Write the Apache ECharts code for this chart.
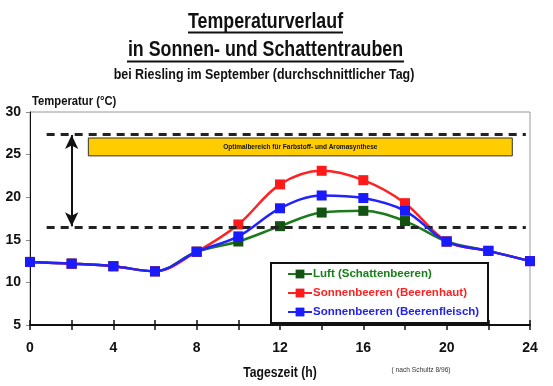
<!DOCTYPE html>
<html><head><meta charset="utf-8">
<script src="https://cdn.jsdelivr.net/npm/echarts@6/dist/echarts.min.js"></script>
<style>html,body{margin:0;padding:0;background:#fff}#c{width:553px;height:386px}</style>
</head><body><div id="c"></div>
<script>
const hours = [0, 2, 4, 6, 8, 10, 12, 14, 16, 18, 20, 22, 24];
const luft = [12.4, 12.2, 11.9, 11.3, 13.6, 14.8, 16.6, 18.2, 18.4, 17.2, 14.8, 13.7, 12.5];
const beerenhaut = [12.4, 12.2, 11.9, 11.3, 13.6, 16.8, 21.5, 23.1, 22.0, 19.3, 14.8, 13.7, 12.5];
const beerenfleisch = [12.4, 12.2, 11.9, 11.3, 13.6, 15.4, 18.7, 20.2, 19.9, 18.4, 14.8, 13.7, 12.5];
const seriesNames = ['Luft (Schattenbeeren)', 'Sonnenbeeren (Beerenhaut)', 'Sonnenbeeren (Beerenfleisch)'];
const optLow = 16.5, optHigh = 27.4;
const boxX = [2.8, 23.15], boxY = [24.85, 26.95];
const xTicks = [0, 4, 8, 12, 16, 20, 24];
const yTicks = [5, 10, 15, 20, 25, 30];

const FONT = '"Liberation Sans",Arial,sans-serif';
const pair = (xs, ys) => xs.map((x, i) => [x, ys[i]]);
const chart = echarts.init(document.getElementById('c'));
const colors = ['#1c7a1c', '#ff2222', '#2222ff'];
const textColors = ['#188018', '#ff2222', '#2222ee'];
const markerColors = ['#145214', '#ff1a1a', '#1a1aff'];
function mk(name, data, i) {
  return {
    name, type: 'line', data: pair(hours, data), smooth: 0.35,
    symbol: 'rect', symbolSize: 10, z: 3 + i,
    lineStyle: { color: colors[i], width: 2.5 },
    itemStyle: { color: markerColors[i] }
  };
}
const series = [mk(seriesNames[0], luft, 0), mk(seriesNames[1], beerenhaut, 1), mk(seriesNames[2], beerenfleisch, 2)];
series[0].markLine = {
  silent: true, animation: false, symbol: ['none', 'none'], label: { show: false },
  lineStyle: { color: '#222', width: 3, type: [8, 6] },
  data: [
    [{ coord: [0.8, optHigh] }, { coord: [23.8, optHigh] }],
    [{ coord: [0.8, optLow] }, { coord: [23.8, optLow] }]
  ]
};
series[1].markLine = {
  silent: true, animation: false, symbol: ['arrow', 'arrow'], symbolSize: [10, 14], label: { show: false },
  lineStyle: { color: '#111', width: 2, type: 'solid' },
  data: [[{ coord: [2, optHigh - 0.1] }, { coord: [2, optLow + 0.1] }]]
};
series[2].markArea = {
  silent: true, animation: false,
  itemStyle: { color: '#ffcc00', borderColor: '#333', borderWidth: 1 },
  label: { show: true, position: 'inside', color: '#111', fontFamily: FONT, fontSize: 6.5, fontWeight: 'bold' },
  data: [[{ coord: [boxX[0], boxY[1]], name: 'Optimalbereich für Farbstoff- und Aromasynthese' }, { coord: [boxX[1], boxY[0]] }]]
};

function txt(text, x, y, font, sx, fill) {
  return { type: 'text', x, y, scaleX: sx, z: 20, style: { text, font: font + ' ' + FONT, fill: fill || '#111', textAlign: 'center', textVerticalAlign: 'middle' } };
}

chart.setOption({
  animation: false,
  textStyle: { fontFamily: FONT },
  grid: { left: 30, right: 23, top: 112, bottom: 61, show: true, borderColor: '#999', borderWidth: 1, backgroundColor: 'transparent' },
  xAxis: [{
    type: 'value', min: 0, max: 24, interval: 2,
    axisLine: { lineStyle: { color: '#111', width: 2 } },
    axisTick: { show: true, length: 5, lineStyle: { color: '#111', width: 1.5 } },
    axisLabel: { margin: 16, fontSize: 14, fontWeight: 'bold', color: '#111', fontFamily: FONT,
      formatter: v => xTicks.includes(v) ? String(v) : '' },
    splitLine: { show: false }
  }, {
    type: 'value', min: 0, max: 24, interval: 2, position: 'bottom',
    axisLine: { show: false },
    axisTick: { show: true, inside: true, length: 5, lineStyle: { color: '#111', width: 1.5 } },
    axisLabel: { show: false }, splitLine: { show: false }
  }],
  yAxis: {
    type: 'value', min: 5, max: 30, interval: 5,
    axisLine: { show: true, lineStyle: { color: '#111', width: 1 } },
    axisTick: { show: true, length: 4, lineStyle: { color: '#888' } },
    axisLabel: { margin: 9, fontSize: 14, fontWeight: 'bold', color: '#111', fontFamily: FONT,
      formatter: v => yTicks.includes(v) ? String(v) : '' },
    splitLine: { show: false }
  },
  legend: {
    orient: 'vertical', left: 287, top: 267, itemGap: 5, itemWidth: 24, itemHeight: 11, z: 10,
    padding: 0,
    data: seriesNames.map((n, i) => ({ name: n, textStyle: { color: textColors[i] } })),
    textStyle: { fontSize: 11.5, fontWeight: 'bold', fontFamily: FONT, padding: [0, 0, 0, -4], lineHeight: 14 }
  },
  series,
  graphic: [
    { type: 'rect', z: 8, shape: { x: 271, y: 263, width: 217, height: 60 }, style: { fill: '#fff', stroke: '#111', lineWidth: 2 } },
    txt('Temperaturverlauf', 265.5, 22, 'bold 22px', 0.81),
    { type: 'line', z: 20, shape: { x1: 188, y1: 32.5, x2: 343, y2: 32.5 }, style: { stroke: '#111', lineWidth: 2 } },
    txt('in Sonnen- und Schattentrauben', 265.5, 50, 'bold 22px', 0.81),
    { type: 'line', z: 20, shape: { x1: 127, y1: 61.5, x2: 404, y2: 61.5 }, style: { stroke: '#111', lineWidth: 2 } },
    txt('bei Riesling im September (durchschnittlicher Tag)', 264, 75, 'bold 15px', 0.83),
    { type: 'text', x: 32, y: 102, z: 20, scaleX: 0.9, style: { text: 'Temperatur (°C)', font: 'bold 12.5px ' + FONT, fill: '#111', textAlign: 'left', textVerticalAlign: 'middle' } },
    txt('Tageszeit (h)', 280, 373, 'bold 14px', 0.87),
    txt('( nach Schultz 8/96)', 421, 370, '7px', 0.95, '#333')
  ]
});
</script></body></html>
